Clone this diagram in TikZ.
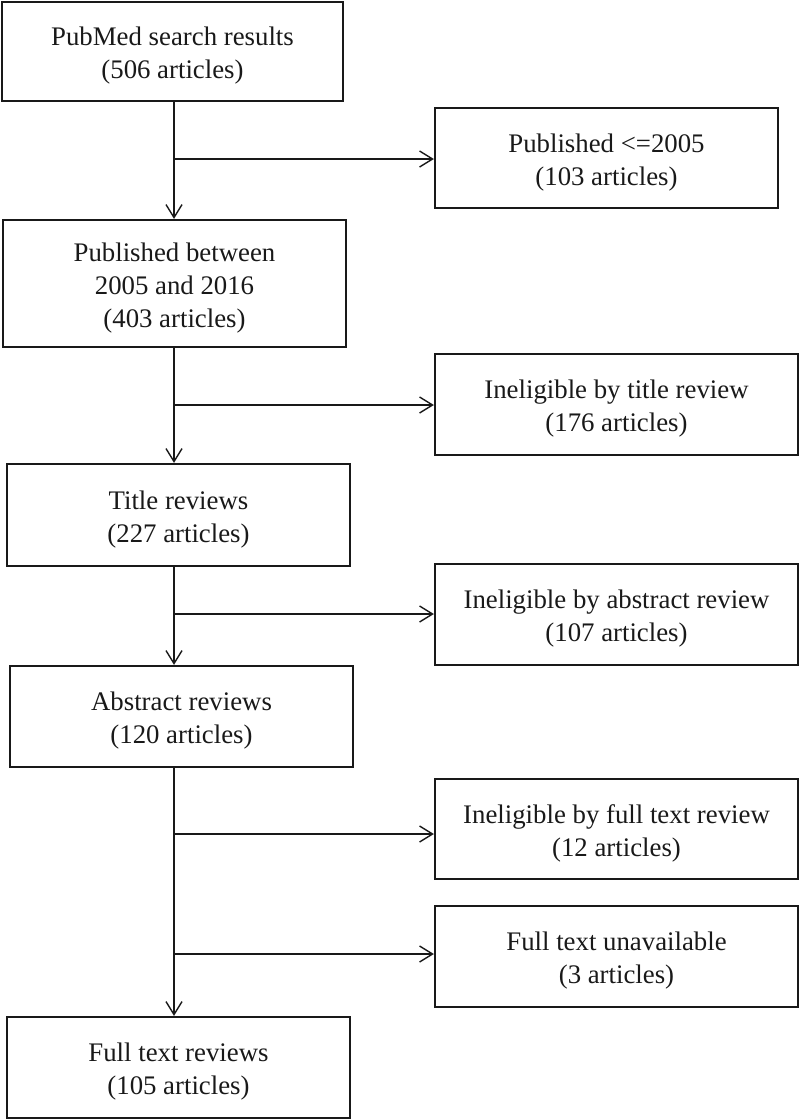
\documentclass[tikz,border=0pt]{standalone}
\usepackage{fontspec}
\setmainfont{Liberation Serif}
\usetikzlibrary{arrows.meta}
\newcommand{\topstrut}{\rule{0pt}{27pt}}
\begin{document}
\begin{tikzpicture}[x=1pt,y=-1pt,
  box/.style={draw=black!90, line width=2.2pt, rectangle, align=center, inner sep=0pt,
    font=\fontsize{26.8}{33}\selectfont, text=black!90},
  arr/.style={draw=black!90, line width=1.3pt, -{Straight Barb[length=13pt,width=16pt,line width=1.4pt]}}]
\useasboundingbox (0,0) rectangle (800,1119);
% left column
\node[box, minimum width=341pt, minimum height=99pt] (B1) at (172.5,51.5) {\topstrut PubMed search results\\(506 articles)};
\node[box, minimum width=343pt, minimum height=127pt] (B2) at (174.5,283.5) {\topstrut Published between\\2005 and 2016\\(403 articles)};
\node[box, minimum width=343pt, minimum height=102pt] (B3) at (178.5,515) {\topstrut Title reviews\\(227 articles)};
\node[box, minimum width=343pt, minimum height=101pt] (B4) at (181.5,716.5) {\topstrut Abstract reviews\\(120 articles)};
\node[box, minimum width=343pt, minimum height=101pt] (B5) at (178.5,1067.5) {\topstrut Full text reviews\\(105 articles)};
% right column
\node[box, minimum width=343pt, minimum height=100pt] (R1) at (606.5,158) {\topstrut Published <=2005\\(103 articles)};
\node[box, minimum width=363pt, minimum height=101pt] (R2) at (616.5,404.5) {\topstrut Ineligible by title review\\(176 articles)};
\node[box, minimum width=363pt, minimum height=101pt] (R3) at (616.5,614.5) {\topstrut Ineligible by abstract review\\(107 articles)};
\node[box, minimum width=363pt, minimum height=100pt] (R4) at (616.5,829) {\topstrut Ineligible by full text review\\(12 articles)};
\node[box, minimum width=363pt, minimum height=101pt] (R5) at (616.5,956.5) {\topstrut Full text unavailable\\(3 articles)};
% branch points on the trunk
\coordinate (b1) at (174,159);
\coordinate (b2) at (174,405);
\coordinate (b3) at (174,614);
\coordinate (b4) at (174,834);
\coordinate (b5) at (174,954);
% trunk
\draw[arr] (b1 |- B1.south) -- (b1 |- B2.north);
\draw[arr] (b2 |- B2.south) -- (b2 |- B3.north);
\draw[arr] (b3 |- B3.south) -- (b3 |- B4.north);
\draw[arr] (b4 |- B4.south) -- (b4 |- B5.north);
% branches
\draw[arr] (b1) -- (b1 -| R1.west);
\draw[arr] (b2) -- (b2 -| R2.west);
\draw[arr] (b3) -- (b3 -| R3.west);
\draw[arr] (b4) -- (b4 -| R4.west);
\draw[arr] (b5) -- (b5 -| R5.west);
\end{tikzpicture}
\end{document}
